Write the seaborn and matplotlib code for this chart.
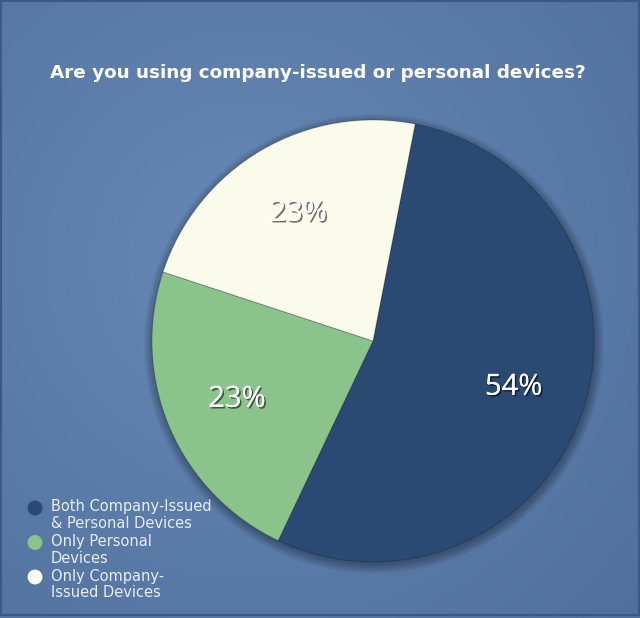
import numpy as np
import matplotlib
matplotlib.use("Agg")
import matplotlib.pyplot as plt
import matplotlib.patheffects as pe
from matplotlib.patches import Circle, Rectangle
import seaborn as sns

# ---- data ----
categories = ["Both Company-Issued\n& Personal Devices",
              "Only Personal\nDevices",
              "Only Company-\nIssued Devices"]
values = [54, 23, 23]
pct_labels = ["54%", "23%", "23%"]
title = "Are you using company-issued or personal devices?"

colors = ["#2a4a74", "#8bc48a", "#fbfbec"]

sns.set_style("white")
plt.rcParams["font.family"] = ["DejaVu Sans"]

W, H = 640, 618
fig = plt.figure(figsize=(W / 100, H / 100), dpi=100)

# ---- background gradient ----
bg = fig.add_axes([0, 0, 1, 1])
yy, xx = np.mgrid[0:H, 0:W]
d = np.sqrt((xx - 250) ** 2 + (yy - 260) ** 2)
d = d / d.max()
c0 = np.array([0x67, 0x89, 0xb6]) / 255
c1 = np.array([0x50, 0x6f, 0x9c]) / 255
img = c0[None, None, :] * (1 - d[..., None]) + c1[None, None, :] * d[..., None]
bg.imshow(img, extent=[0, W, H, 0], aspect="auto")
bg.set_xlim(0, W)
bg.set_ylim(H, 0)
bg.axis("off")
bg.add_patch(Rectangle((0.5, 0.5), W - 1.5, H - 4, fill=False, ec="#3b5983", lw=1.5))

# ---- pie ----
cx, cy, r = 373, 341, 221
ax = fig.add_axes([(cx - r) / W, 1 - (cy + r) / H, 2 * r / W, 2 * r / H])
ax.axis("off")
for k in range(10):
    ax.add_patch(Circle((0.004, -0.012), 1.0 + 0.0045 * k, color="black",
                        alpha=0.03, lw=0, zorder=0, clip_on=False))
wedges, texts, autotexts = ax.pie(
    values, colors=colors, startangle=79, counterclock=False,
    autopct=lambda p: f"{p:.0f}%", pctdistance=0.67, radius=1.0,
    wedgeprops=dict(linewidth=0.8, edgecolor=(0, 0, 0, 0.2)),
    textprops=dict(color="white", fontsize=21, family="Open Sans"))
ax.set_xlim(-1, 1)
ax.set_ylim(-1, 1)
for t, lab in zip(autotexts, pct_labels):
    t.set_text(lab)
    t.set_path_effects([pe.withSimplePatchShadow(offset=(1.2, -1.2),
                                                 shadow_rgbFace="black", alpha=0.55),
                        pe.Normal()])

# ---- title ----
fig.text(318 / W, 1 - 73 / H, title, ha="center", va="center",
         color="white", fontsize=13.2, fontweight="bold")

# ---- legend ----
lx, ty0, step = 35, 508, 34.5
for i, (lab, col) in enumerate(zip(categories, colors)):
    yc = ty0 + i * step
    bg.scatter([lx], [yc], s=115, color=col, edgecolor="none", zorder=5)
    bg.text(51, yc - 8.5, lab, ha="left", va="top", color="#e8eef6",
            fontsize=10.5, linespacing=1.15)

fig.savefig("out.png", dpi=100)
